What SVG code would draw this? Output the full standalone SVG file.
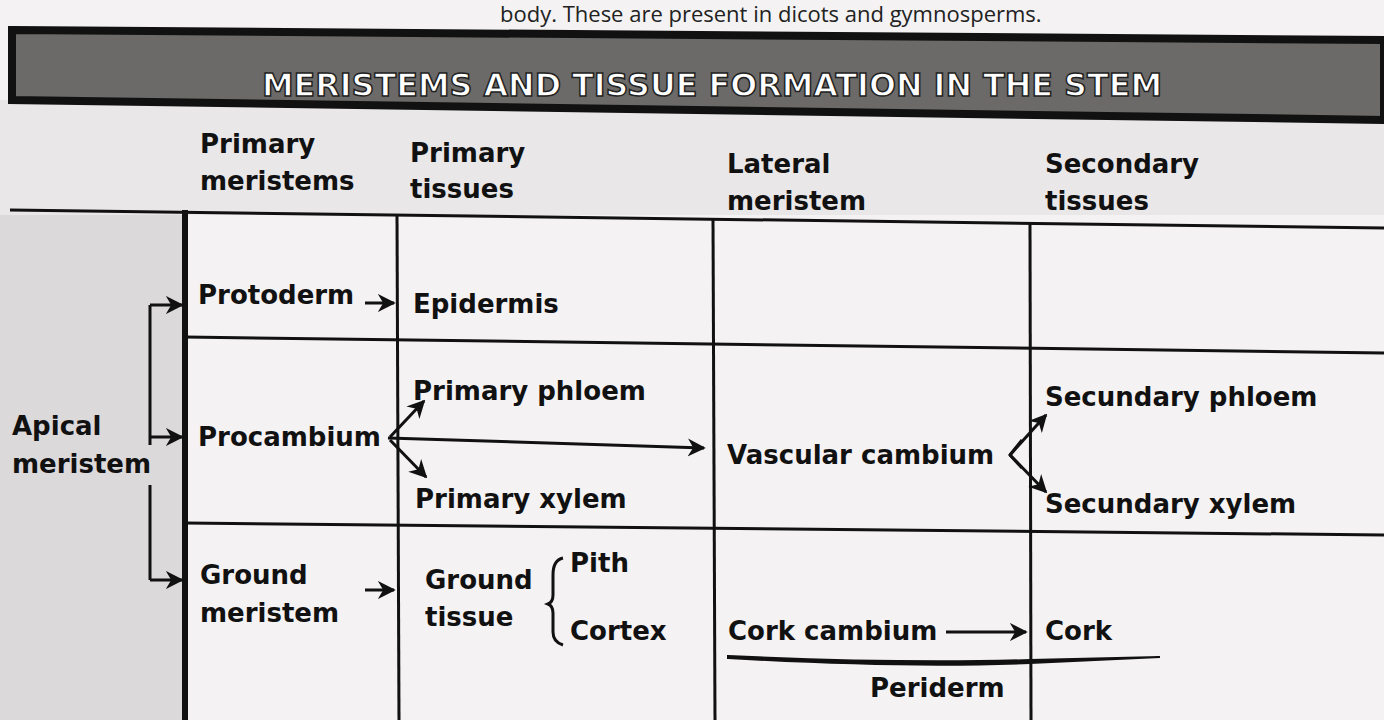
<svg xmlns="http://www.w3.org/2000/svg" width="1384" height="720" viewBox="0 0 1384 720">
<defs>
<style>
.t{font-family:"DejaVu Sans","Liberation Sans",sans-serif;font-weight:bold;font-size:26px;fill:#111}
.ln{stroke:#111;stroke-width:3;fill:none}
.thk{stroke:#111;stroke-width:6;fill:none}
.ar{stroke:#111;stroke-width:3;fill:none;marker-end:url(#ah)}
</style>
<marker id="ah" viewBox="0 0 10 10" refX="9" refY="5" markerWidth="6" markerHeight="6" orient="auto" markerUnits="strokeWidth">
<path d="M0,0 L10,5 L0,10 L3,5 Z" fill="#111"/>
</marker>
</defs>
<rect width="1384" height="720" fill="#f4f2f3"/>
<rect x="0" y="210" width="185" height="510" fill="#dcd9db"/>
<rect x="0" y="100" width="1384" height="115" fill="#e9e7e8"/>
<text x="500" y="22" font-family="Open Sans, Liberation Sans, sans-serif" font-size="22" fill="#222">body. These are present in dicots and gymnosperms.</text>
<g id="header">
<path d="M12,30 Q700,33 1384,40 L1384,120 Q700,112 12,100 Z" fill="#6b6a68" stroke="#111" stroke-width="8"/>
<text x="262" y="96" textLength="900" lengthAdjust="spacingAndGlyphs" font-family="DejaVu Sans, sans-serif" font-weight="bold" font-size="32" fill="#fff" stroke="#222" stroke-width="1.5">MERISTEMS AND TISSUE FORMATION IN THE STEM</text>
</g>
<g id="grid">
<line class="ln" x1="10" y1="210" x2="1384" y2="228"/>
<line class="thk" x1="185" y1="210" x2="185" y2="720"/>
<line class="ln" x1="397" y1="216" x2="399" y2="720"/>
<line class="ln" x1="713" y1="220" x2="715" y2="720"/>
<line class="ln" x1="1030" y1="224" x2="1031" y2="720"/>
<line class="ln" x1="185" y1="337" x2="1384" y2="353"/>
<line class="ln" x1="185" y1="523" x2="1384" y2="535"/>
</g>
<g id="col-headers">
<text class="t" x="200" y="153">Primary</text>
<text class="t" x="200" y="190">meristems</text>
<text class="t" x="410" y="162">Primary</text>
<text class="t" x="410" y="198">tissues</text>
<text class="t" x="727" y="173">Lateral</text>
<text class="t" x="727" y="210">meristem</text>
<text class="t" x="1045" y="173">Secondary</text>
<text class="t" x="1045" y="210">tissues</text>
</g>
<g id="apical"><text class="t" x="12" y="435">Apical</text><text class="t" x="12" y="473">meristem</text></g>
<g id="protoderm"><text class="t" x="198" y="304">Protoderm</text></g>
<g id="epidermis"><text class="t" x="413" y="313">Epidermis</text></g>
<g id="procambium"><text class="t" x="198" y="446">Procambium</text></g>
<g id="pphloem"><text class="t" x="413" y="400">Primary phloem</text></g>
<g id="pxylem"><text class="t" x="415" y="508">Primary xylem</text></g>
<g id="vascular"><text class="t" x="727" y="464">Vascular cambium</text></g>
<g id="sphloem"><text class="t" x="1045" y="406">Secundary phloem</text></g>
<g id="sxylem"><text class="t" x="1045" y="513">Secundary xylem</text></g>
<g id="ground"><text class="t" x="200" y="584">Ground</text><text class="t" x="200" y="622">meristem</text></g>
<g id="groundtissue"><text class="t" x="425" y="589">Ground</text><text class="t" x="425" y="626">tissue</text>
<path class="ln" d="M563,558 Q553,560 553,575 L553,595 Q553,602 548,604 Q553,606 553,613 L553,632 Q553,642 563,645"/>
<text class="t" x="570" y="572">Pith</text><text class="t" x="570" y="640">Cortex</text></g>
<g id="cork"><text class="t" x="728" y="640">Cork cambium</text><text class="t" x="1045" y="640">Cork</text></g>
<g id="periderm"><path d="M728,656 Q900,664 1030,660 L1160,657 L1030,663 Q900,668 728,658 Z" fill="#111" stroke="#111" stroke-width="2"/>
<text class="t" x="870" y="697">Periderm</text></g>
<g id="connectors">
<path class="ln" d="M150,445 L150,305"/>
<path class="ln" d="M150,485 L150,580"/>
<path class="ar" d="M150,305 L182,305"/>
<path class="ar" d="M150,437 L182,437"/>
<path class="ar" d="M150,580 L182,580"/>
<path class="ar" d="M365,303 L394,303"/>
<path class="ar" d="M388,438 L704,448"/>
<path class="ar" d="M390,437 L424,401"/>
<path class="ar" d="M390,440 L426,477"/>
<path class="ar" d="M365,590 L394,590"/>
<path class="ar" d="M946,632 L1026,632"/>
<path class="ln" d="M1022,440 L1010,455 L1022,468"/>
<path class="ar" d="M1010,455 L1046,415"/>
<path class="ar" d="M1010,455 L1046,492"/>
</g>
</svg>
